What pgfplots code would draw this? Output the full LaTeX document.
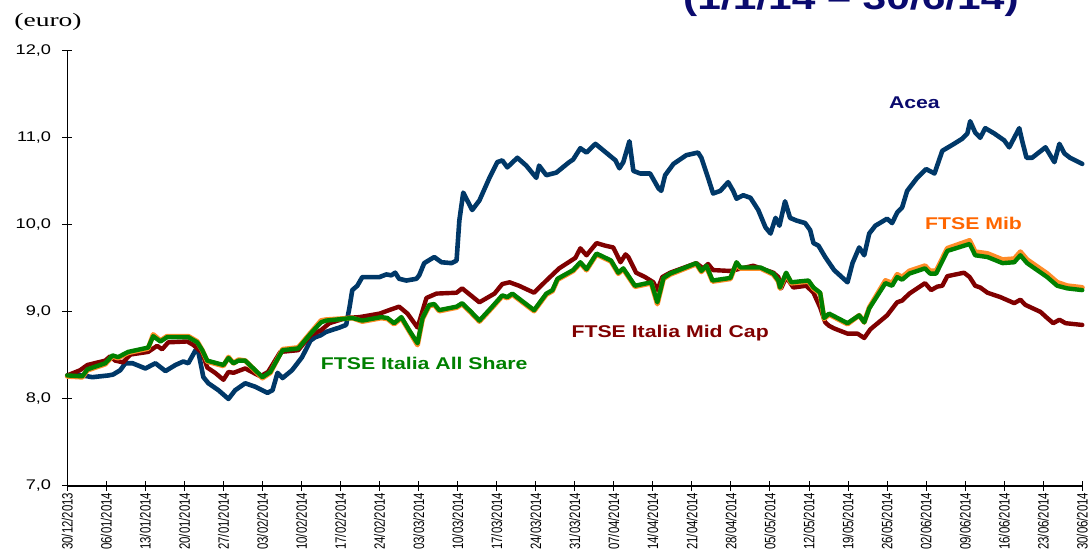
\documentclass[border=0pt]{standalone}
\usepackage{fontspec}
\setmainfont{Liberation Sans}
\newfontfamily\ytfont[FakeStretch=1.3]{Liberation Sans}
\newfontfamily\xtfont[FakeStretch=0.76]{Liberation Sans}
\newfontfamily\lblfont[FakeStretch=1.25]{Liberation Sans}
\newfontfamily\eurofont[FakeStretch=1.45]{Liberation Serif}
\usepackage{pgfplots}
\pgfplotsset{compat=1.18}
\definecolor{acea}{RGB}{0,56,104}
\definecolor{midcap}{RGB}{128,0,0}
\definecolor{allsh}{RGB}{0,128,0}
\definecolor{mib}{RGB}{255,140,40}
\definecolor{mibtxt}{RGB}{255,102,0}
\definecolor{navy}{RGB}{10,10,110}
\begin{document}
\begin{tikzpicture}[x=1pt,y=1pt]
\begin{axis}[
  name=ax,
  scale only axis, width=1015pt, height=435.3pt,
  xmin=0, xmax=182, ymin=7, ymax=12,
  clip=false,
  axis lines*=left,
  axis line style={line width=1.2pt, black, -},
  tick align=center, major tick length=10pt,
  tick style={black, line width=1pt},
  xtick={0,7,...,182},
  xticklabels={30/12/2013,06/01/2014,13/01/2014,20/01/2014,27/01/2014,03/02/2014,10/02/2014,17/02/2014,24/02/2014,03/03/2014,10/03/2014,17/03/2014,24/03/2014,31/03/2014,07/04/2014,14/04/2014,21/04/2014,28/04/2014,05/05/2014,12/05/2014,19/05/2014,26/05/2014,02/06/2014,09/06/2014,16/06/2014,23/06/2014,30/06/2014},
  xticklabel style={rotate=90, anchor=east, font=\xtfont\fontsize{15}{15}\selectfont, inner sep=0pt, xshift=-1.5pt},
  ytick={7,8,9,10,11,12},
  yticklabel={\pgfmathprintnumber[fixed,fixed zerofill,precision=1,use comma,assume math mode=true]{\tick}},
  yticklabel style={anchor=east, font=\ytfont\fontsize{14}{14}\selectfont, inner sep=0pt, xshift=-11pt},
]
\coordinate (bl) at (rel axis cs:0,0);
% Acea
\addplot[acea, line width=4.6pt, line join=round, line cap=round] coordinates {
(0,8.27)(2.7,8.27)(4.5,8.25)(7.4,8.27)(8.2,8.28)(9.5,8.33)(10.4,8.41)(11.7,8.41)(14.0,8.35)(15.8,8.41)(17.6,8.32)(19.4,8.39)(20.8,8.43)(21.7,8.41)(23.0,8.56)(23.5,8.54)(24.4,8.25)(25.3,8.18)(27.1,8.10)(28.9,8.00)(30.1,8.10)(31.9,8.18)(33.7,8.14)(35.9,8.07)(36.8,8.10)(37.7,8.30)(38.6,8.24)(40.3,8.33)(42.1,8.48)(43.6,8.67)(44.5,8.71)(45.4,8.73)(46.4,8.77)(48.8,8.82)(50.0,8.85)(50.6,9.05)(51.1,9.25)(52.0,9.30)(52.9,9.40)(56.0,9.40)(57.2,9.43)(58.1,9.42)(58.8,9.45)(59.5,9.38)(60.8,9.36)(62.6,9.38)(63.1,9.42)(64.0,9.56)(65.8,9.63)(67.1,9.57)(68.9,9.56)(69.8,9.59)(70.3,10.05)(71.0,10.37)(72.6,10.17)(73.9,10.28)(75.7,10.54)(77.1,10.72)(78.0,10.74)(78.9,10.66)(80.7,10.77)(82.3,10.68)(84.1,10.54)(84.6,10.68)(85.9,10.57)(87.7,10.60)(90.0,10.72)(90.7,10.75)(92.0,10.88)(93.1,10.83)(94.7,10.93)(96.6,10.83)(98.3,10.74)(99.0,10.65)(99.7,10.72)(100.8,10.96)(101.5,10.62)(102.7,10.59)(104.5,10.59)(106.0,10.42)(106.5,10.39)(107.2,10.57)(108.7,10.70)(111.0,10.80)(113.1,10.83)(113.7,10.77)(114.9,10.54)(115.8,10.36)(117.1,10.39)(118.5,10.49)(119.4,10.39)(120.0,10.30)(121.2,10.34)(122.5,10.31)(123.9,10.17)(125.2,9.97)(126.1,9.90)(127.0,10.08)(127.7,9.99)(128.7,10.27)(129.6,10.08)(130.7,10.05)(132.3,10.02)(133.2,9.94)(133.8,9.79)(134.7,9.76)(135.9,9.63)(137.5,9.48)(139.9,9.34)(140.8,9.56)(142.0,9.74)(142.9,9.65)(143.8,9.90)(144.9,9.99)(147.0,10.07)(147.9,10.02)(148.8,10.14)(149.7,10.20)(150.6,10.39)(152.4,10.54)(154.0,10.64)(155.5,10.59)(156.9,10.85)(159.0,10.93)(160.5,10.99)(161.4,11.05)(161.9,11.19)(162.8,11.06)(163.7,11.00)(164.6,11.11)(166.2,11.05)(168.0,10.97)(168.9,10.89)(170.7,11.11)(171.2,10.97)(172.0,10.77)(173.0,10.77)(175.4,10.89)(177.0,10.72)(177.9,10.93)(178.8,10.82)(179.8,10.77)(182.0,10.70)
};
% FTSE Italia Mid Cap
\addplot[midcap, line width=4.4pt, line join=round, line cap=round] coordinates {
(0,8.27)(2.3,8.33)(3.6,8.39)(6.8,8.44)(7.7,8.49)(8.6,8.44)(10.0,8.42)(11.3,8.51)(14.5,8.54)(16.1,8.61)(17.0,8.57)(18.1,8.65)(21.5,8.66)(22.6,8.62)(24.2,8.53)(25.1,8.36)(26.5,8.30)(28.0,8.22)(28.9,8.31)(29.8,8.30)(31.9,8.35)(34.6,8.26)(36.0,8.31)(38.2,8.54)(41.4,8.56)(43.6,8.73)(45.5,8.79)(47.0,8.87)(50.0,8.93)(52.4,8.94)(56.0,8.98)(57.7,9.02)(59.5,9.06)(61.0,8.98)(62.8,8.82)(64.4,9.16)(66.2,9.21)(69.8,9.22)(70.8,9.27)(73.9,9.11)(76.6,9.21)(78.0,9.32)(79.3,9.34)(81.0,9.30)(83.7,9.22)(85.9,9.36)(88.2,9.50)(91.1,9.62)(92.0,9.73)(93.1,9.65)(94.9,9.79)(96.5,9.76)(97.9,9.74)(99.2,9.57)(100.1,9.66)(100.6,9.63)(102.0,9.45)(103.6,9.40)(105.1,9.34)(105.8,9.25)(106.7,9.40)(108.1,9.45)(112.8,9.56)(114.0,9.50)(114.9,9.55)(115.8,9.48)(118.9,9.47)(123.0,9.53)(126.6,9.45)(127.5,9.40)(128.0,9.27)(128.9,9.40)(130.2,9.28)(132.5,9.30)(133.8,9.22)(135.0,9.05)(135.9,8.88)(136.6,8.84)(137.5,8.81)(139.9,8.75)(141.7,8.75)(142.9,8.70)(144.0,8.80)(147.0,8.96)(148.8,9.11)(149.7,9.13)(151.0,9.21)(153.8,9.33)(154.9,9.25)(156.0,9.29)(156.9,9.30)(157.8,9.41)(160.8,9.45)(161.8,9.40)(162.8,9.30)(163.7,9.28)(165.0,9.22)(167.3,9.17)(169.8,9.10)(170.9,9.14)(171.8,9.08)(174.5,9.00)(175.7,8.93)(176.8,8.87)(177.9,8.91)(179.0,8.87)(182.0,8.85)
};
% FTSE Mib
\addplot[mib, line width=5pt, line join=round, line cap=round] coordinates {
(0,8.26)(2.7,8.25)(3.6,8.33)(6.8,8.40)(8.1,8.49)(9.1,8.47)(10.9,8.53)(14.5,8.58)(15.4,8.74)(16.7,8.67)(17.9,8.72)(21.7,8.72)(23.3,8.66)(24.2,8.56)(25.1,8.43)(28.0,8.38)(28.9,8.48)(29.8,8.41)(30.7,8.45)(31.9,8.44)(35.0,8.24)(36.4,8.30)(38.6,8.57)(41.4,8.59)(43.9,8.78)(45.5,8.90)(46.4,8.91)(51.1,8.93)(52.9,8.89)(56.3,8.93)(57.4,8.92)(58.6,8.86)(59.9,8.93)(61.3,8.78)(62.8,8.62)(63.7,8.92)(64.9,9.07)(65.8,9.08)(66.7,9.01)(69.8,9.05)(70.8,9.09)(72.4,8.99)(73.9,8.89)(76.2,9.05)(78.0,9.18)(78.9,9.16)(79.8,9.20)(83.7,9.01)(85.9,9.20)(87.0,9.24)(87.9,9.37)(90.7,9.47)(92.0,9.56)(93.1,9.48)(94.9,9.66)(97.5,9.58)(98.8,9.44)(99.7,9.49)(101.8,9.29)(104.7,9.33)(105.8,9.09)(106.9,9.38)(108.1,9.43)(112.8,9.55)(113.7,9.46)(114.6,9.52)(115.7,9.35)(118.9,9.38)(120.0,9.56)(120.7,9.50)(124.3,9.50)(126.6,9.43)(127.5,9.35)(127.8,9.27)(128.9,9.44)(129.8,9.33)(132.9,9.35)(133.8,9.27)(135.0,9.21)(135.7,8.92)(136.6,8.97)(139.9,8.86)(142.0,8.96)(142.9,8.88)(143.8,9.05)(146.7,9.36)(147.9,9.33)(148.8,9.43)(149.7,9.40)(151.0,9.47)(153.8,9.53)(154.7,9.47)(155.8,9.47)(157.8,9.73)(161.8,9.82)(162.8,9.69)(165.0,9.67)(167.7,9.60)(169.8,9.61)(170.9,9.69)(172.1,9.60)(175.7,9.44)(177.5,9.34)(179.3,9.30)(182.0,9.28)
};
% FTSE Italia All Share
\addplot[allsh, line width=4.4pt, line join=round, line cap=round] coordinates {
(0,8.27)(2.7,8.26)(3.6,8.34)(6.8,8.41)(8.1,8.50)(9.1,8.48)(10.9,8.54)(14.5,8.59)(15.4,8.72)(16.7,8.66)(17.9,8.71)(21.7,8.71)(23.3,8.65)(24.2,8.56)(25.1,8.44)(28.0,8.39)(28.9,8.47)(29.8,8.41)(30.7,8.44)(31.9,8.44)(35.0,8.25)(36.4,8.31)(38.6,8.56)(41.4,8.58)(43.9,8.77)(45.5,8.88)(46.4,8.90)(51.1,8.93)(52.9,8.90)(56.3,8.94)(57.4,8.93)(58.6,8.87)(59.9,8.94)(61.3,8.79)(62.8,8.64)(63.7,8.93)(64.9,9.08)(65.8,9.09)(66.7,9.02)(69.8,9.06)(70.8,9.10)(72.4,9.00)(73.9,8.90)(76.2,9.06)(78.0,9.19)(78.9,9.17)(79.8,9.21)(83.7,9.02)(85.9,9.21)(87.0,9.25)(87.9,9.38)(90.7,9.48)(92.0,9.57)(93.1,9.49)(94.9,9.67)(97.5,9.59)(98.8,9.45)(99.7,9.50)(101.8,9.30)(104.7,9.34)(105.8,9.11)(106.9,9.39)(108.1,9.44)(112.8,9.56)(113.7,9.47)(114.6,9.53)(115.7,9.36)(118.9,9.39)(120.0,9.57)(120.7,9.51)(124.3,9.51)(126.6,9.44)(127.5,9.36)(127.8,9.28)(128.9,9.45)(129.8,9.34)(132.9,9.36)(133.8,9.28)(135.0,9.22)(135.7,8.93)(136.6,8.98)(139.9,8.87)(142.0,8.96)(142.9,8.88)(143.8,9.04)(146.7,9.33)(147.9,9.30)(148.8,9.40)(149.7,9.37)(151.0,9.44)(153.8,9.50)(154.7,9.44)(155.8,9.44)(157.8,9.70)(161.8,9.78)(162.8,9.65)(165.0,9.63)(167.7,9.56)(169.8,9.57)(170.9,9.65)(172.1,9.56)(175.7,9.40)(177.5,9.30)(179.3,9.27)(182.0,9.25)
};
\node[font=\lblfont\bfseries\fontsize{17}{20}\selectfont, text=navy] at (axis cs:151.9,11.40) {Acea};
\node[font=\lblfont\bfseries\fontsize{17}{20}\selectfont, text=mibtxt] at (axis cs:162.5,10.02) {FTSE Mib};
\node[font=\lblfont\bfseries\fontsize{17}{20}\selectfont, text=midcap] at (axis cs:108.1,8.757) {FTSE Italia Mid Cap};
\node[font=\lblfont\bfseries\fontsize{17}{20}\selectfont, text=allsh] at (axis cs:64.0,8.41) {FTSE Italia All Share};
\end{axis}
\node[anchor=base west, inner sep=0, text=navy, font=\lblfont\bfseries\fontsize{34}{40}\selectfont] at ([shift={(615.7,476)}]bl) {(1/1/14 – 30/6/14)};
\node[font=\eurofont\fontsize{19}{22}\selectfont, inner sep=0] at ([shift={(-19.3,464.5)}]bl) {(euro)};
\pgfresetboundingbox
\path[use as bounding box] ([shift={(-67.3,-67)}]bl) rectangle ([shift={(1020.7,486)}]bl);
\end{tikzpicture}
\end{document}
